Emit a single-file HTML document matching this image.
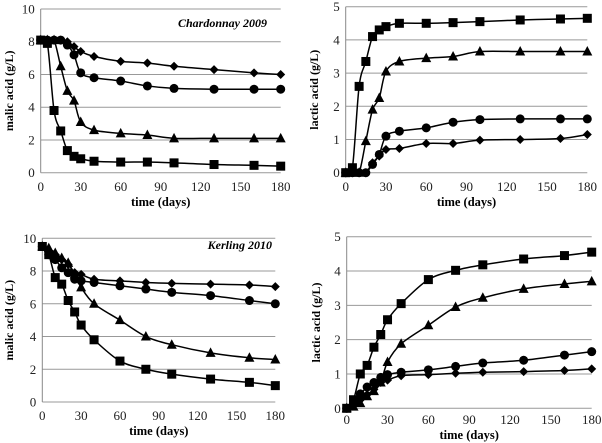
<!DOCTYPE html>
<html><head><meta charset="utf-8"><style>
body{margin:0;background:#fff}
svg{display:block;font-family:"Liberation Serif",serif}
</style></head><body>
<svg id="c" width="602" height="443"></svg>
<script>
const days=[0,5,10,15,20,25,30,40,60,80,100,130,160,180];
const xTicks=[0,30,60,90,120,150,180];
const malicTicks=[0,2,4,6,8,10];
const lacticTicks=[0,1,2,3,4,5];
const p1Square=[8.1,7.9,3.8,2.55,1.35,1.0,0.85,0.7,0.65,0.65,0.6,0.5,0.45,0.4];
const p1Triangle=[8.1,8.1,8.1,6.5,5.0,4.4,3.1,2.6,2.4,2.3,2.1,2.1,2.1,2.1];
const p1Circle=[8.1,8.1,8.1,8.1,7.8,7.2,6.1,5.8,5.6,5.3,5.15,5.1,5.1,5.1];
const p1Diamond=[8.1,8.1,8.1,8.1,8.0,7.7,7.4,7.1,6.8,6.7,6.5,6.3,6.1,6.0];
const p2Square=[0,0.15,2.6,3.35,4.1,4.3,4.4,4.5,4.5,4.52,4.55,4.6,4.63,4.65];
const p2Triangle=[0,0,0,0.95,1.9,2.25,3.05,3.35,3.45,3.5,3.65,3.65,3.65,3.65];
const p2Circle=[0,0,0,0,0.25,0.55,1.1,1.25,1.35,1.52,1.6,1.62,1.62,1.62];
const p2Diamond=[0,0,0,0,0.3,0.5,0.7,0.73,0.88,0.88,0.98,1.0,1.03,1.15];
const p3Square=[9.5,9.0,7.6,7.2,6.2,5.5,4.7,3.8,2.5,2.0,1.7,1.4,1.2,1.0];
const p3Triangle=[9.5,9.4,9.1,8.8,8.5,7.8,7.0,6.0,5.0,4.0,3.5,3.0,2.7,2.6];
const p3Circle=[9.5,9.0,8.7,8.2,7.9,7.5,7.4,7.3,7.1,6.9,6.7,6.5,6.2,6.0];
const p3Diamond=[9.5,9.2,9.0,8.7,8.4,7.9,7.8,7.5,7.4,7.3,7.25,7.2,7.15,7.05];
const p4Square=[0,0.25,1.0,1.25,1.78,2.15,2.58,3.05,3.75,4.02,4.18,4.35,4.45,4.55];
const p4Triangle=[0,0.05,0.15,0.35,0.5,0.75,1.35,1.88,2.42,2.95,3.22,3.48,3.62,3.7];
const p4Circle=[0,0.2,0.42,0.62,0.75,0.9,0.98,1.05,1.12,1.22,1.32,1.4,1.55,1.65];
const p4Diamond=[0,0.1,0.25,0.4,0.55,0.75,0.82,0.95,0.98,1.02,1.05,1.07,1.1,1.15];

const NS="http://www.w3.org/2000/svg";
const svg=document.getElementById('c');
function mk(tag,attrs,parent){const e=document.createElementNS(NS,tag);for(const k in attrs)e.setAttribute(k,attrs[k]);(parent||svg).appendChild(e);return e;}

const panels=[
 {id:'chardonnay-malic',x0:40.7,x1:280.7,yT:9,yB:172.7,max:10,ticks:malicTicks,ylab:'malic acid (g/L)',ylx:9,tickY:191,titleY:206,note:'Chardonnay 2009',nx:267,ny:27,s:[p1Square,p1Triangle,p1Circle,p1Diamond]},
 {id:'chardonnay-lactic',x0:345.7,x1:587.3,yT:6.7,yB:172.7,max:5,ticks:lacticTicks,ylab:'lactic acid (g/L)',ylx:314,tickY:191,titleY:206,s:[p2Square,p2Triangle,p2Circle,p2Diamond]},
 {id:'kerling-malic',x0:42.3,x1:275.3,yT:238.3,yB:402,max:10,ticks:malicTicks,ylab:'malic acid (g/L)',ylx:9,tickY:420,titleY:435,note:'Kerling 2010',nx:272,ny:249,s:[p3Square,p3Triangle,p3Circle,p3Diamond]},
 {id:'kerling-lactic',x0:346.7,x1:591.7,yT:236.7,yB:408.3,max:5,ticks:lacticTicks,ylab:'lactic acid (g/L)',ylx:316,tickY:424,titleY:439,s:[p4Square,p4Triangle,p4Circle,p4Diamond]}
];
const shapes=['square','triangle','circle','diamond'];

function smoothPath(pts){
 let d=`M${pts[0][0]},${pts[0][1]}`;
 for(let i=0;i<pts.length-1;i++){
  const p0=pts[Math.max(0,i-1)],p1=pts[i],p2=pts[i+1],p3=pts[Math.min(pts.length-1,i+2)];
  const t=0.16;
  const c1=[p1[0]+(p2[0]-p0[0])*t,p1[1]+(p2[1]-p0[1])*t];
  const c2=[p2[0]-(p3[0]-p1[0])*t,p2[1]-(p3[1]-p1[1])*t];
  d+=` C${c1[0]},${c1[1]} ${c2[0]},${c2[1]} ${p2[0]},${p2[1]}`;
 }
 return d;
}

panels.forEach(P=>{
 const g=mk('g',{});
 
 
 const xs=v=>P.x0+(v/180)*(P.x1-P.x0);
 const ys=v=>P.yB-(v/P.max)*(P.yB-P.yT);
 P.ticks.forEach(t=>{
  const l=mk('line',{x1:P.x0,x2:P.x1,y1:ys(t),y2:ys(t),stroke:'#999','stroke-width':1},g);
  
  
  const tx=mk('text',{x:P.x0-6,y:ys(t)+4.5,'text-anchor':'end','font-size':13,fill:'#222'},g);
  tx.textContent=t;
  
  
 });
 const ax=mk('line',{x1:P.x0,x2:P.x0,y1:P.yT,y2:P.yB,stroke:'#888','stroke-width':1},g);
 
 
 xTicks.forEach(t=>{
  const tx=mk('text',{x:xs(t),y:P.tickY,'text-anchor':'middle','font-size':13,fill:'#222'},g);
  tx.textContent=t;
  
  
 });
 const xt=mk('text',{x:(P.x0+P.x1)/2,y:P.titleY,'text-anchor':'middle','font-size':12.5,'font-weight':'bold'},g);
 xt.textContent='time (days)';
 
 
 const cy=(P.yT+P.yB)/2;
 const yt=mk('text',{x:P.ylx+4,y:cy,'text-anchor':'middle','font-size':12,'font-weight':'bold',transform:`rotate(-90 ${P.ylx+4} ${cy})`},g);
 yt.textContent=P.ylab;
 
 
 if(P.note){
  const n=mk('text',{x:P.nx,y:P.ny,'text-anchor':'end','font-size':12,'font-weight':'bold','font-style':'italic'},g);
  n.textContent=P.note;
  
  
 }
 P.s.forEach((vals,si)=>{
  const pts=vals.map((v,i)=>[xs(days[i]),ys(v)]);
  const path=mk('path',{d:smoothPath(pts),fill:'none',stroke:'#000','stroke-width':1.5},g);
  
  
  pts.forEach(([x,y])=>{
   let m;
   if(si===0)m=mk('rect',{x:x-4.5,y:y-4.5,width:9,height:9,fill:'#000'},g);
   else if(si===1)m=mk('polygon',{points:`${x},${y-5.5} ${x+5},${y+4} ${x-5},${y+4}`,fill:'#000'},g);
   else if(si===2)m=mk('circle',{cx:x,cy:y,r:4.5,fill:'#000'},g);
   else m=mk('polygon',{points:`${x},${y-4.5} ${x+4.5},${y} ${x},${y+4.5} ${x-4.5},${y}`,fill:'#000'},g);
   
   
  });
 });
});
</script>
</body></html>
